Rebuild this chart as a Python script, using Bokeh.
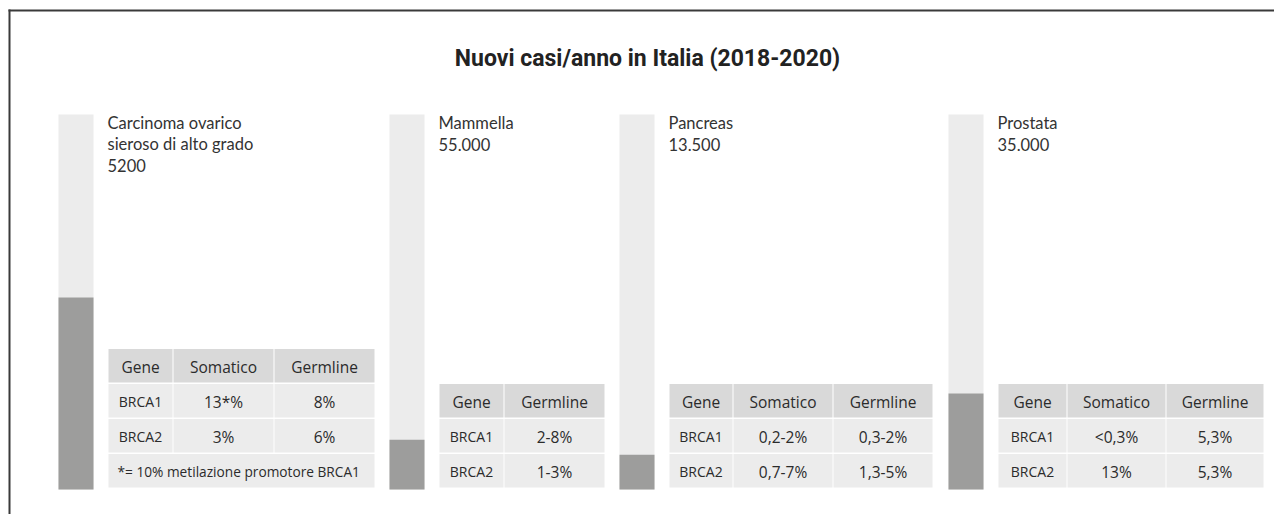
from bokeh.plotting import figure
from bokeh.models import Range1d, ColumnDataSource
from bokeh.core.properties import value
from bokeh.embed import file_html
from bokeh.resources import INLINE

# ---------------- data ----------------
title = "Nuovi casi/anno in Italia (2018-2020)"
site_names = [["Carcinoma ovarico", "sieroso di alto grado"], ["Mammella"], ["Pancreas"], ["Prostata"]]
new_cases = ["5200", "55.000", "13.500", "35.000"]
brca_share = [0.512, 0.133, 0.093, 0.256]
genes = ["BRCA1", "BRCA2"]
table_headers = [["Gene", "Somatico", "Germline"], ["Gene", "Germline"],
                 ["Gene", "Somatico", "Germline"], ["Gene", "Somatico", "Germline"]]
somatic = [["13*%", "3%"], None, ["0,2-2%", "0,7-7%"], ["<0,3%", "13%"]]
germline = [["8%", "6%"], ["2-8%", "1-3%"], ["0,3-2%", "1,3-5%"], ["5,3%", "5,3%"]]
footnotes = ["*= 10% metilazione promotore BRCA1", None, None, None]

# ---------------- layout / style ----------------
W, H = 1274, 514
BAR_BASE, BAR_TOP = 489, 114
bar_left = [58, 389, 619, 948]
BAR_W = 35
col_edges = [
    [(108, 171), (173, 272), (274, 373)],
    [(439, 502), (504, 603)],
    [(669, 731), (733, 831), (833, 931)],
    [(998, 1065), (1067, 1164), (1166, 1262)],
]
label_x = [107, 438, 668, 997]
TABLE_BOTTOM, ROW_PITCH, ROW_H = 487, 35, 33.5

LIGHT = "#ececec"
DARK = "#9d9d9c"
HEAD = "#d9d9d9"
CELL = "#ececec"
TXT = "#2b2b2b"
FRAME = "#3a3a3a"
LABEL_FONT = value("Lato")
TABLE_FONT = value("Open Sans")
TITLE_FONT = value("Roboto")

p = figure(width=W, height=H, output_backend="svg", toolbar_location=None,
           x_range=Range1d(0, W), y_range=Range1d(H, 0),
           x_axis_location=None, y_axis_location=None, min_border=0)
p.grid.visible = False
p.outline_line_color = None
p.background_fill_color = "white"
p.border_fill_color = "white"

unit = BAR_BASE - BAR_TOP
p.extra_y_ranges = {"bar": Range1d(start=-(H - BAR_BASE) / unit, end=BAR_BASE / unit)}

# frame (top and left rules) as thin filled strips
p.quad(left=[8, 8], right=[W, 10], top=[9, 9], bottom=[11, H], fill_color=FRAME, line_color=None)

# title
p.text(x=[647], y=[66.5 - 9], text=[title], text_align="center", text_baseline="alphabetic",
       text_font=TITLE_FONT, text_font_style="bold", text_font_size="23px", text_color="#222222")

# bars
centers = [b + BAR_W / 2 for b in bar_left]
p.vbar(x=centers, width=BAR_W, top=[1.0] * len(centers), bottom=0, y_range_name="bar",
       fill_color=LIGHT, line_color=None)
p.vbar(x=centers, width=BAR_W, top=brca_share, bottom=0, y_range_name="bar",
       fill_color=DARK, line_color=None)

# labels
lx, ly, lt = [], [], []
for i, names in enumerate(site_names):
    lines = names + [new_cases[i]]
    for k, t in enumerate(lines):
        lx.append(label_x[i]); ly.append(130.5 - 8 + 21 * k); lt.append(t)
p.text(x=lx, y=ly, text=lt, text_align="left", text_baseline="alphabetic",
       text_font=LABEL_FONT, text_font_size="16.5px", text_color="#333333")

# tables
ql, qr, qt, qb, qc = [], [], [], [], []
tx, ty, tt, tsz, talign = [], [], [], [], []
for i in range(4):
    cols = col_edges[i]
    rows = [table_headers[i]]
    for g in range(len(genes)):
        r = [genes[g]]
        if somatic[i] is not None:
            r.append(somatic[i][g])
        r.append(germline[i][g])
        rows.append(r)
    n = len(rows) + (1 if footnotes[i] else 0)
    tops = [TABLE_BOTTOM - ROW_PITCH * (n - 1 - k) - ROW_H for k in range(n)]
    for k, r in enumerate(rows):
        for c, txt in enumerate(r):
            l, rr = cols[c]
            ql.append(l); qr.append(rr + 1); qt.append(tops[k]); qb.append(tops[k] + ROW_H)
            qc.append(HEAD if k == 0 else CELL)
            tx.append((l + rr + 1) / 2); ty.append(tops[k] + 23 - 5.5); tt.append(txt)
            tsz.append("14px" if (k > 0 and c == 0) else "15.5px"); talign.append("center")
    if footnotes[i]:
        k = n - 1
        ql.append(cols[0][0]); qr.append(cols[-1][1] + 1); qt.append(tops[k]); qb.append(tops[k] + ROW_H)
        qc.append(CELL)
        tx.append(cols[0][0] + 9); ty.append(tops[k] + 22.5 - 5.2); tt.append(footnotes[i])
        tsz.append("13.7px"); talign.append("left")

p.quad(left=ql, right=qr, top=qt, bottom=qb, fill_color=qc, line_color=None)
src = ColumnDataSource(dict(x=tx, y=ty, text=tt, size=tsz, align=talign))
p.text(x="x", y="y", text="text", source=src, text_align="align", text_baseline="alphabetic",
       text_font=TABLE_FONT, text_font_size="size", text_color=TXT)

open("out.html", "w").write(file_html(p, INLINE))
